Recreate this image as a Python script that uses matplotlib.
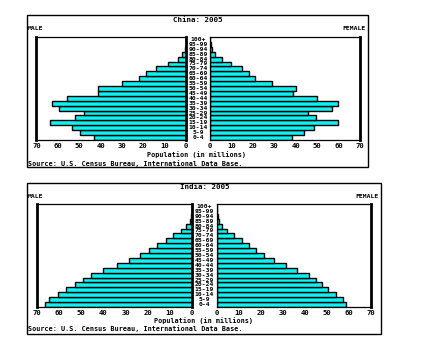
import matplotlib
matplotlib.use("Agg")
import matplotlib.pyplot as plt
from matplotlib.patches import Rectangle

# age groups, bottom to top
ages = ["0-4", "5-9", "10-14", "15-19", "20-24", "25-29", "30-34", "35-39",
        "40-44", "45-49", "50-54", "55-59", "60-64", "65-69", "70-74",
        "75-79", "80-84", "85-89", "90-94", "95-99", "100+"]

# population in millions
china_male = [43.3, 49.5, 53.5, 63.8, 51.8, 47.9, 59.5, 62.7, 55.6, 41.4, 41.1,
              29.8, 22.1, 18.5, 14.1, 8.5, 3.9, 1.7, 0.6, 0.1, 0.02]
china_female = [38.4, 43.9, 48.7, 59.9, 49.3, 45.9, 56.8, 59.9, 49.8, 38.9, 40.0,
                28.8, 21.0, 18.2, 14.8, 9.8, 5.8, 2.3, 1.1, 0.3, 0.05]
india_male = [66.4, 64.6, 60.4, 56.8, 53.0, 49.4, 45.5, 40.1, 33.9, 28.6, 23.5,
              19.3, 15.8, 11.6, 8.4, 5.0, 2.6, 1.1, 0.4, 0.1, 0.02]
india_female = [58.5, 57.1, 53.9, 50.3, 47.9, 44.8, 41.8, 36.5, 31.2, 26.1, 21.5,
                17.7, 14.7, 11.5, 7.9, 4.7, 2.4, 0.8, 0.3, 0.1, 0.02]
ticks = [0, 10, 20, 30, 40, 50, 60, 70]

W, H = 439, 355
CYAN = "#10F0F0"
FONT = "DejaVu Sans Mono"

fig = plt.figure(figsize=(W / 100, H / 100), dpi=100)


def fx(px):
    return px / W


def fy(py):
    return 1 - py / H


def pyramid(title, male, female, frame, left_ax, right_ax, txt_y):
    # frame = (x0, y0, x1, y1) px; left_ax/right_ax = (x0, x1, y0, y1) px
    x0, y0, x1, y1 = frame
    fig.patches.append(Rectangle((fx(x0), fy(y1)), fx(x1 - x0), (y1 - y0) / H,
                                 transform=fig.transFigure, fill=False,
                                 edgecolor="black", lw=1.0))
    ty, sexy, ticky, laby, srcy = txt_y
    cx = (left_ax[1] + right_ax[0]) / 2

    fig.text(fx(cx), fy(ty), title, ha="center", va="center",
             family=FONT, fontsize=5.4, weight="bold")
    fig.text(fx(x0 + 0.5), fy(sexy), "MALE", ha="left", va="center",
             family=FONT, fontsize=4.6, weight="bold")
    fig.text(fx(x1 - 2), fy(sexy), "FEMALE", ha="right", va="center",
             family=FONT, fontsize=4.6, weight="bold")
    fig.text(fx(x0 + 1), fy(srcy), "Source: U.S. Census Bureau, International Data Base.",
             ha="left", va="center", family=FONT, fontsize=4.9, weight="bold")

    for (ax0, ax1, ay0, ay1), vals, side in [(left_ax, male, "L"), (right_ax, female, "R")]:
        ax = fig.add_axes([fx(ax0), fy(ay1), fx(ax1 - ax0), (ay1 - ay0) / H])
        y = list(range(len(ages)))
        ax.barh(y, vals, height=1.0, color=CYAN, edgecolor="black", lw=1.0)
        ax.set_ylim(-0.5, len(ages) - 0.5)
        ax.set_xlim(0, 70)
        if side == "L":
            ax.invert_xaxis()
        ax.set_xticks(ticks)
        ax.set_xticklabels([str(t) for t in ticks], family=FONT, fontsize=5.2,
                           weight="bold")
        ax.tick_params(axis="x", length=0, pad=2.5)
        ax.set_yticks([])
        for s in ax.spines.values():
            s.set_linewidth(0.9)
        if side == "L":
            ax.spines["left"].set_linewidth(2.0)
            ax.spines["right"].set_linewidth(2.0)
        else:
            ax.spines["right"].set_linewidth(2.0)

    # age labels between the halves
    ay0, ay1 = left_ax[2], left_ax[3]
    step = (ay1 - ay0) / len(ages)
    for i, a in enumerate(ages):
        fig.text(fx(cx), fy(ay1 - step * (i + 0.5)), a, ha="center", va="center",
                 family=FONT, fontsize=4.6, weight="bold")

    fig.text(fx(cx - 1), fy(laby), "Population (in millions)", ha="center",
             va="center", family=FONT, fontsize=4.9, weight="bold")


pyramid("China: 2005", china_male, china_female,
        (27, 15, 368, 167), (36.5, 186, 37, 140), (210, 360, 37, 140),
        (20, 29, 146.5, 155, 163.5))
pyramid("India: 2005", india_male, india_female,
        (27, 183, 381, 334), (37, 192, 204, 307), (217, 371, 204, 307),
        (187, 197, 313, 321, 329))

fig.savefig("out.png", dpi=100)
